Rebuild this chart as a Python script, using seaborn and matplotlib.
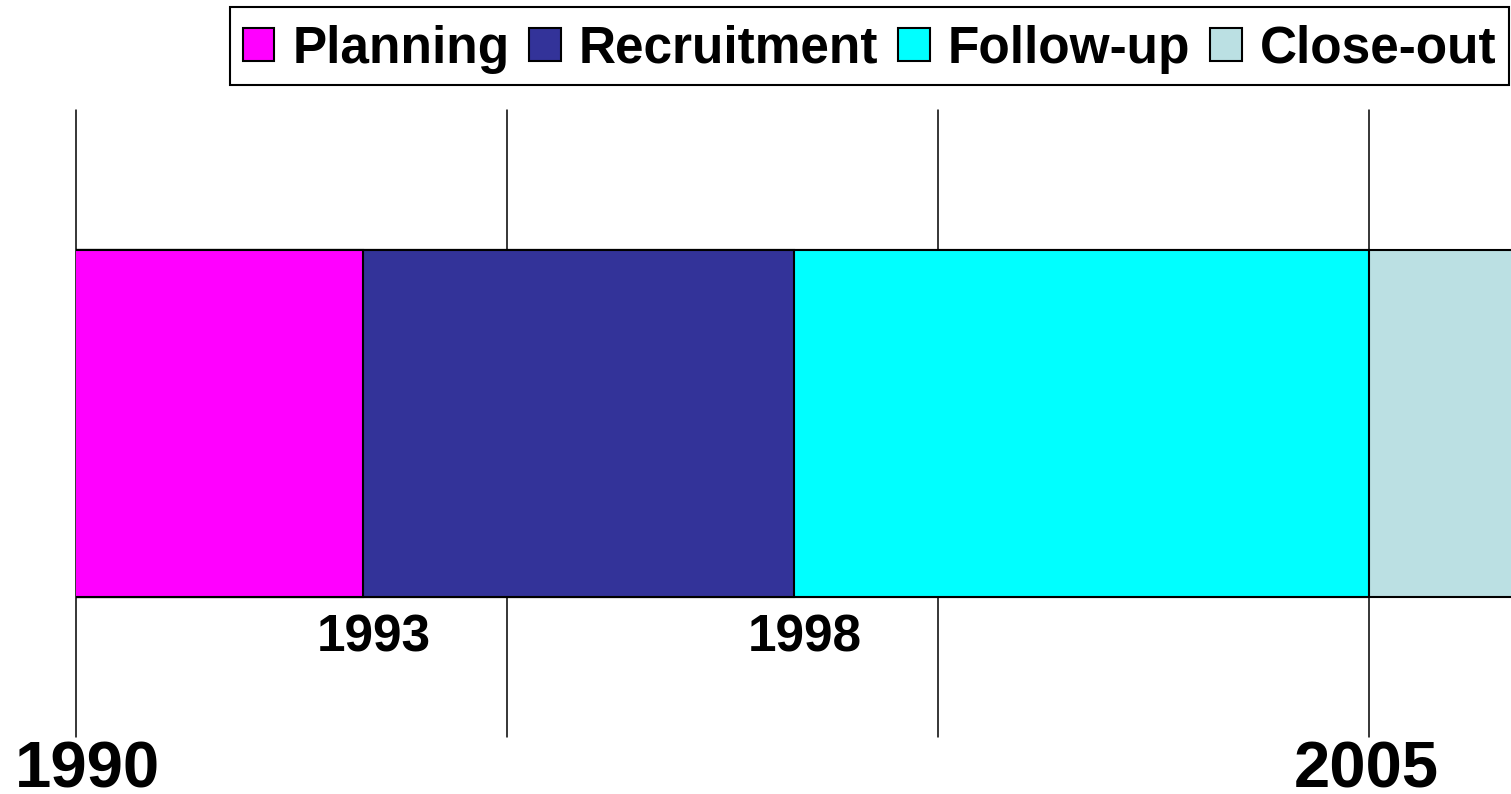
import matplotlib

matplotlib.use("Agg")
import matplotlib.pyplot as plt
import pandas as pd
import seaborn as sns
from matplotlib.patches import Patch, Rectangle


PHASES = ["Planning", "Recruitment", "Follow-up", "Close-out"]
PHASE_END = [1993.33, 1998.33, 2005.0, 2007.0]
COLORS = ["#ff00ff", "#333399", "#00ffff", "#bbe0e3"]
GRID_YEARS = [1990, 1995, 2000, 2005]
BOUNDARY_LABELS = ["1993", "1998"]
BOUNDARY_YEARS = [1993.33, 1998.33]
END_LABELS = ["1990", "2005"]
END_YEARS = [1990, 2005]

FIG_W, FIG_H = 1511, 794
PX = 0.72  # pixels -> points at dpi 100
BAR_WIDTH = 0.553


def draw_bars(ax) -> None:
    df = pd.DataFrame({"phase": PHASES, "end": PHASE_END, "row": "study"})
    # stacked look: draw the longest cumulative bar first, shorter ones on top
    for _, item in df.iloc[::-1].iterrows():
        color = COLORS[PHASES.index(item["phase"])]
        sns.barplot(
            x=[item["end"]],
            y=[item["row"]],
            orient="h",
            color=color,
            saturation=1,
            width=BAR_WIDTH,
            edgecolor="black",
            linewidth=1.5,
            ax=ax,
            zorder=2,
        )


def draw_legend(fig) -> None:
    # legend frame drawn separately so the entries can sit a little low, as in the original
    box_left, box_top, box_right, box_bottom = 230, 7, 1509, 85
    fig.patches.append(
        Rectangle(
            (box_left / FIG_W, 1 - box_bottom / FIG_H),
            (box_right - box_left) / FIG_W,
            (box_bottom - box_top) / FIG_H,
            transform=fig.transFigure,
            facecolor="white",
            edgecolor="black",
            linewidth=1.5,
            zorder=5,
        )
    )
    handles = [Patch(facecolor=c, edgecolor="black", linewidth=1.5) for c in COLORS]
    legend = fig.legend(
        handles,
        PHASES,
        loc="center",
        bbox_to_anchor=((box_left + box_right) / 2 / FIG_W, 1 - 49 / FIG_H),
        ncol=4,
        prop={"weight": "bold", "size": 37},
        frameon=False,
        borderaxespad=0,
        borderpad=0,
        handlelength=0.62,
        handleheight=0.62,
        handletextpad=0.35,
        columnspacing=0.38,
    )
    legend.set_zorder(6)
    for text in legend.get_texts():
        text.set_color("black")


def main() -> None:
    sns.set_theme(style="white")
    plt.rcParams["font.family"] = ["Liberation Sans", "DejaVu Sans"]
    plt.rcParams["text.color"] = "black"

    fig = plt.figure(figsize=(FIG_W / 100, FIG_H / 100), dpi=100)
    ax = fig.add_axes([76 / FIG_W, 57 / FIG_H, 1 - 76 / FIG_W, 627 / FIG_H])

    for year in GRID_YEARS:
        ax.axvline(year, color="black", linewidth=1.1, zorder=1, clip_on=False)

    draw_bars(ax)

    ax.set_xlim(1990, 1990 + (FIG_W - 76) / 86.2)
    ax.set_ylim(0.5, -0.5)
    ax.set_xticks([])
    ax.set_yticks([])
    ax.set_xlabel("")
    ax.set_ylabel("")
    sns.despine(ax=ax, left=True, bottom=True)

    bar_bottom = 0.5 - BAR_WIDTH / 2
    for label, year in zip(BOUNDARY_LABELS, BOUNDARY_YEARS):
        ax.annotate(
            label,
            xy=(year, bar_bottom),
            xycoords=("data", "axes fraction"),
            xytext=(11 * PX, -55 * PX),
            textcoords="offset points",
            ha="center",
            va="baseline",
            fontsize=37,
            fontweight="bold",
            color="black",
        )

    end_offsets = [(-61, "left"), (-3, "center")]
    for label, year, (dx, ha) in zip(END_LABELS, END_YEARS, end_offsets):
        ax.annotate(
            label,
            xy=(year, 0),
            xycoords=("data", "axes fraction"),
            xytext=(dx * PX, -50 * PX),
            textcoords="offset points",
            ha=ha,
            va="baseline",
            fontsize=47,
            fontweight="bold",
            color="black",
            annotation_clip=False,
        )

    draw_legend(fig)

    fig.savefig("out.png", dpi=100)
    plt.close(fig)


if __name__ == "__main__":
    main()
